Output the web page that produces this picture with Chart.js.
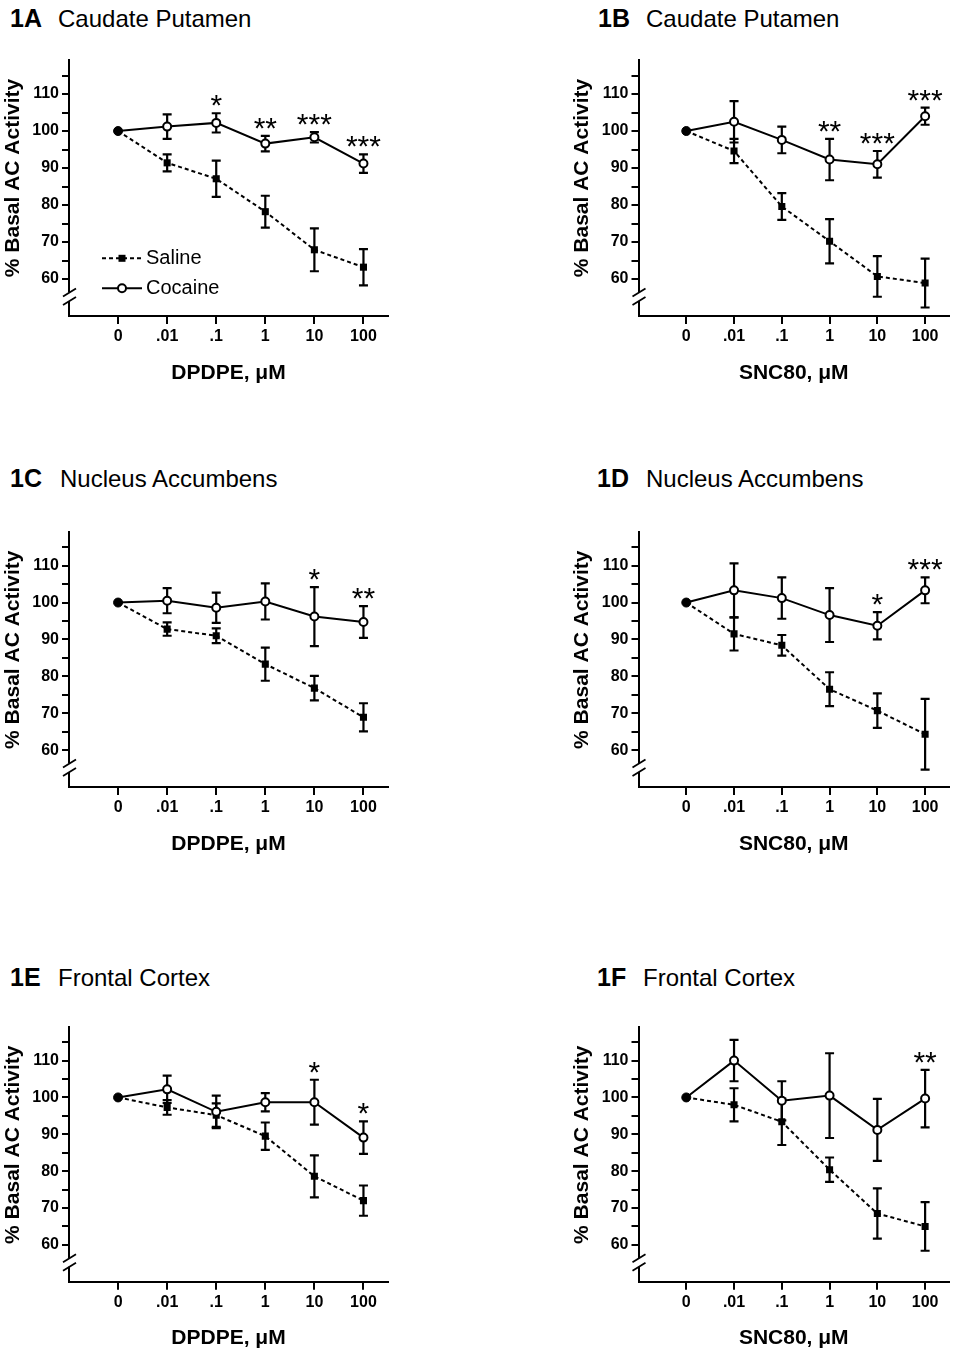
<!DOCTYPE html>
<html>
<head>
<meta charset="utf-8">
<title>Basal AC Activity</title>
<script src="https://cdn.jsdelivr.net/npm/chart.js@4.4.1/dist/chart.umd.min.js"></script>
<style>
  html, body { margin: 0; padding: 0; background: #fff; }
  body { position: relative; width: 955px; height: 1353px; overflow: hidden;
         font-family: "Liberation Sans", Arial, sans-serif; color: #000; }
  canvas { position: absolute; }
  .num { position: absolute; font-size: 25px; font-weight: bold; line-height: 1; }
  .name { position: absolute; font-size: 24px; line-height: 1; }
</style>
</head>
<body>

<span class="num" style="left:10px;top:6px">1A</span><span class="name" style="left:58px;top:7px">Caudate Putamen</span>
<span class="num" style="left:598px;top:6px">1B</span><span class="name" style="left:646px;top:7px">Caudate Putamen</span>
<span class="num" style="left:10px;top:466px">1C</span><span class="name" style="left:60px;top:467px">Nucleus Accumbens</span>
<span class="num" style="left:597px;top:466px">1D</span><span class="name" style="left:646px;top:467px">Nucleus Accumbens</span>
<span class="num" style="left:10px;top:965px">1E</span><span class="name" style="left:58px;top:966px">Frontal Cortex</span>
<span class="num" style="left:597px;top:965px">1F</span><span class="name" style="left:643px;top:966px">Frontal Cortex</span>

<canvas id="cA" width="400" height="350" style="left:0;top:40px"></canvas>
<canvas id="cB" width="395" height="350" style="left:560px;top:40px"></canvas>
<canvas id="cC" width="400" height="360" style="left:0;top:500px"></canvas>
<canvas id="cD" width="395" height="360" style="left:560px;top:500px"></canvas>
<canvas id="cE" width="400" height="353" style="left:0;top:1000px"></canvas>
<canvas id="cF" width="395" height="353" style="left:560px;top:1000px"></canvas>

<script>
// dose categories (x axis)
const doses = ['0', '.01', '.1', '1', '10', '100'];
const yTickValues = [60, 65, 70, 75, 80, 85, 90, 95, 100, 105, 110, 115];

// 1A  Caudate Putamen, DPDPE
const salineA = [100, 91.4, 87.1, 78.2, 67.9, 63.2];
const salineErrA = [0, 2.3, 4.9, 4.3, 5.8, 4.9];
const cocaineA = [100, 101.2, 102.2, 96.6, 98.3, 91.2];
const cocaineErrA = [0, 3.3, 2.6, 2.1, 1.4, 2.5];
const starsA = ['', '', '*', '**', '***', '***'];

// 1B  Caudate Putamen, SNC80
const salineB = [100, 94.6, 79.6, 70.2, 60.7, 58.9];
const salineErrB = [0, 3.3, 3.6, 6.0, 5.5, 6.6];
const cocaineB = [100, 102.5, 97.6, 92.3, 91.0, 104.0];
const cocaineErrB = [0, 5.6, 3.6, 5.6, 3.6, 2.3];
const starsB = ['', '', '', '**', '***', '***'];

// 1C  Nucleus Accumbens, DPDPE
const salineC = [100, 92.8, 91.0, 83.3, 76.8, 68.9];
const salineErrC = [0, 1.8, 2.0, 4.5, 3.3, 3.8];
const cocaineC = [100, 100.5, 98.6, 100.3, 96.2, 94.7];
const cocaineErrC = [0, 3.4, 4.1, 4.9, 8.0, 4.3];
const starsC = ['', '', '', '', '*', '**'];

// 1D  Nucleus Accumbens, SNC80
const salineD = [100, 91.5, 88.4, 76.5, 70.7, 64.3];
const salineErrD = [0, 4.5, 2.8, 4.6, 4.7, 9.6];
const cocaineD = [100, 103.3, 101.2, 96.6, 93.7, 103.3];
const cocaineErrD = [0, 7.3, 5.6, 7.3, 3.7, 3.5];
const starsD = ['', '', '', '', '*', '***'];

// 1E  Frontal Cortex, DPDPE
const salineE = [100, 97.3, 95.2, 89.5, 78.6, 72.0];
const salineErrE = [0, 2.0, 3.2, 3.7, 5.7, 4.1];
const cocaineE = [100, 102.2, 96.1, 98.7, 98.7, 89.1];
const cocaineErrE = [0, 3.7, 4.4, 2.5, 6.1, 4.4];
const starsE = ['', '', '', '', '*', '*'];

// 1F  Frontal Cortex, SNC80
const salineF = [100, 98.0, 93.4, 80.4, 68.5, 65.0];
const salineErrF = [0, 4.5, 6.3, 3.3, 6.8, 6.6];
const cocaineF = [100, 110.0, 99.1, 100.5, 91.2, 99.7];
const cocaineErrF = [0, 5.6, 5.3, 11.5, 8.4, 7.8];
const starsF = ['', '', '', '', '', '**'];

const FONT = '"Liberation Sans", Arial, sans-serif';
Chart.defaults.font.family = FONT;
Chart.defaults.color = '#000';

// error bars, axis break, axis titles, stars and legend
const decor = {
  id: 'decor',
  beforeDatasetsDraw(chart) {
    const ctx = chart.ctx, x = chart.scales.x, y = chart.scales.y;
    ctx.save();
    ctx.strokeStyle = '#000';
    ctx.lineWidth = 2.2;
    chart.data.datasets.forEach(ds => {
      ds.err.forEach((e, i) => {
        if (!e) return;
        const px = x.getPixelForValue(i);
        const top = y.getPixelForValue(ds.data[i].y + e);
        const bot = y.getPixelForValue(ds.data[i].y - e);
        ctx.beginPath();
        ctx.moveTo(px, top); ctx.lineTo(px, bot);
        ctx.moveTo(px - 4.5, top); ctx.lineTo(px + 4.5, top);
        ctx.moveTo(px - 4.5, bot); ctx.lineTo(px + 4.5, bot);
        ctx.stroke();
      });
    });
    ctx.restore();
  },
  afterDraw(chart, args, opts) {
    const ctx = chart.ctx, a = chart.chartArea, x = chart.scales.x, y = chart.scales.y;
    const L = a.left, B = a.bottom;
    ctx.save();

    // broken y axis
    ctx.fillStyle = '#fff';
    ctx.fillRect(L - 2, B - 23.5, 4, 8.5);
    ctx.strokeStyle = '#000';
    ctx.lineWidth = 1.8;
    ctx.beginPath();
    ctx.moveTo(L - 6, B - 19.5); ctx.lineTo(L + 7, B - 27.5);
    ctx.moveTo(L - 6, B - 11); ctx.lineTo(L + 7, B - 19);
    ctx.stroke();

    // axis titles
    ctx.fillStyle = '#000';
    ctx.font = 'bold 21px ' + FONT;
    ctx.textAlign = 'center';
    ctx.textBaseline = 'middle';
    ctx.fillText(opts.xTitle, (a.left + a.right) / 2, B + 57);
    ctx.save();
    ctx.translate(L - 56, a.top + 118);
    ctx.rotate(-Math.PI / 2);
    ctx.fillText('% Basal AC Activity', 0, 0);
    ctx.restore();

    // significance stars above the cocaine error bars
    const coc = chart.data.datasets[0];
    ctx.font = '30px ' + FONT;
    ctx.textBaseline = 'alphabetic';
    coc.stars.forEach((s, i) => {
      if (!s) return;
      const top = y.getPixelForValue(coc.data[i].y + coc.err[i]);
      ctx.fillText(s, x.getPixelForValue(i), top + 2);
    });

    // legend (panel 1A only)
    if (opts.legend) {
      const rows = [
        { label: 'Saline', dy: 198.3, dash: [4, 3], square: true },
        { label: 'Cocaine', dy: 228.3, dash: [], square: false }
      ];
      rows.forEach(r => {
        const ry = a.top + r.dy;
        ctx.setLineDash(r.dash);
        ctx.lineWidth = 2;
        ctx.beginPath();
        ctx.moveTo(L + 33, ry); ctx.lineTo(L + 73, ry);
        ctx.stroke();
        ctx.setLineDash([]);
        if (r.square) {
          ctx.fillRect(L + 53 - 3.5, ry - 3.5, 7, 7);
        } else {
          ctx.beginPath();
          ctx.arc(L + 53, ry, 4, 0, Math.PI * 2);
          ctx.fillStyle = '#fff';
          ctx.fill();
          ctx.stroke();
          ctx.fillStyle = '#000';
        }
        ctx.font = '20px ' + FONT;
        ctx.textAlign = 'left';
        ctx.textBaseline = 'middle';
        ctx.fillText(r.label, L + 77, ry);
      });
    }
    ctx.restore();
  }
};

const panels = [
  { id: 'cA', left: 0,   top: 40,   width: 400, height: 350, area: { l: 69,    t: 60,     r: 388, b: 316 },
    saline: salineA, salineErr: salineErrA, cocaine: cocaineA, cocaineErr: cocaineErrA, stars: starsA, xTitle: 'DPDPE, \u03bcM', legend: true },
  { id: 'cB', left: 560, top: 40,   width: 395, height: 350, area: { l: 638.5, t: 60,     r: 955, b: 316 },
    saline: salineB, salineErr: salineErrB, cocaine: cocaineB, cocaineErr: cocaineErrB, stars: starsB, xTitle: 'SNC80, \u03bcM' },
  { id: 'cC', left: 0,   top: 500,  width: 400, height: 360, area: { l: 69,    t: 531.7,  r: 388, b: 787 },
    saline: salineC, salineErr: salineErrC, cocaine: cocaineC, cocaineErr: cocaineErrC, stars: starsC, xTitle: 'DPDPE, \u03bcM' },
  { id: 'cD', left: 560, top: 500,  width: 395, height: 360, area: { l: 638.5, t: 531.7,  r: 955, b: 787 },
    saline: salineD, salineErr: salineErrD, cocaine: cocaineD, cocaineErr: cocaineErrD, stars: starsD, xTitle: 'SNC80, \u03bcM' },
  { id: 'cE', left: 0,   top: 1000, width: 400, height: 353, area: { l: 69,    t: 1026.7, r: 388, b: 1281.7 },
    saline: salineE, salineErr: salineErrE, cocaine: cocaineE, cocaineErr: cocaineErrE, stars: starsE, xTitle: 'DPDPE, \u03bcM' },
  { id: 'cF', left: 560, top: 1000, width: 395, height: 353, area: { l: 638.5, t: 1026.7, r: 955, b: 1281.7 },
    saline: salineF, salineErr: salineErrF, cocaine: cocaineF, cocaineErr: cocaineErrF, stars: starsF, xTitle: 'SNC80, \u03bcM' }
];

const toPoints = vals => vals.map((v, i) => ({ x: i, y: v }));

panels.forEach(p => {
  const axisLine = { display: true, color: '#000', width: 2 };
  new Chart(document.getElementById(p.id), {
    type: 'line',
    data: {
      datasets: [
        {
          label: 'Cocaine',
          data: toPoints(p.cocaine),
          err: p.cocaineErr,
          stars: p.stars,
          borderColor: '#000',
          borderWidth: 2,
          tension: 0,
          pointStyle: 'circle',
          pointRadius: p.cocaine.map((v, i) => i === 0 ? 4.5 : 4),
          pointBorderWidth: p.cocaine.map((v, i) => i === 0 ? 1 : 2),
          pointBorderColor: '#000',
          pointBackgroundColor: p.cocaine.map((v, i) => i === 0 ? '#000' : '#fff')
        },
        {
          label: 'Saline',
          data: toPoints(p.saline),
          err: p.salineErr,
          stars: [],
          borderColor: '#000',
          borderWidth: 2,
          borderDash: [4, 3],
          tension: 0,
          pointStyle: 'rect',
          pointRadius: p.saline.map((v, i) => i === 0 ? 0 : 5),
          pointBorderWidth: 0,
          pointBackgroundColor: '#000'
        }
      ]
    },
    options: {
      responsive: false,
      animation: false,
      devicePixelRatio: 1,
      layout: { padding: { top: p.area.t - p.top, right: p.left + p.width - p.area.r, left: 0, bottom: 0 } },
      plugins: {
        legend: { display: false },
        tooltip: { enabled: false },
        decor: { xTitle: p.xTitle, legend: !!p.legend }
      },
      scales: {
        x: {
          type: 'linear',
          min: -1,
          max: 5.5,
          afterFit: s => { s.height = p.top + p.height - p.area.b; },
          afterBuildTicks: s => { s.ticks = doses.map((d, i) => ({ value: i })); },
          ticks: { autoSkip: false, maxRotation: 0, padding: 3, color: '#000',
                   font: { size: 16, weight: 'bold' }, callback: v => doses[v] },
          grid: { drawOnChartArea: false, drawTicks: true, tickLength: 8, color: '#000', lineWidth: 2 },
          border: axisLine
        },
        y: {
          min: 50,
          max: 119.2,
          afterFit: s => { s.width = p.area.l - p.left; },
          afterBuildTicks: s => { s.ticks = yTickValues.map(v => ({ value: v })); },
          ticks: { autoSkip: false, padding: 3, color: '#000',
                   font: { size: 16, weight: 'bold' }, callback: v => v % 10 === 0 ? String(v) : '' },
          grid: { drawOnChartArea: false, drawTicks: true, tickLength: 7, color: '#000', lineWidth: 2 },
          border: axisLine
        }
      }
    },
    plugins: [decor]
  });
});
</script>
</body>
</html>
